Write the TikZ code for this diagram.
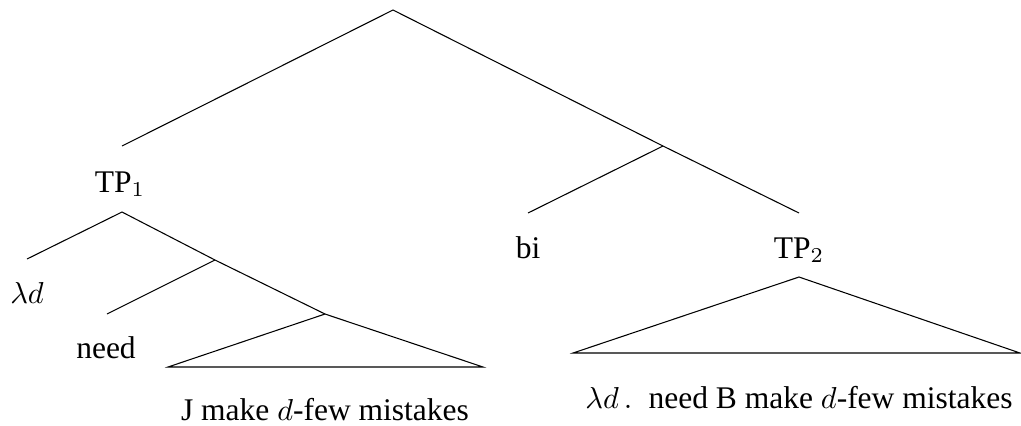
\documentclass[tikz,border=0pt]{standalone}
\usepackage{fontspec}
\setmainfont{Liberation Serif}
\usepackage{tikz}

\begin{document}
\begin{tikzpicture}[x=0.33pt,y=-0.33pt,
  lbl/.style={anchor=base,inner sep=0pt,font=\fontsize{10.4}{12.5}\selectfont},
  edge/.style={line width=0.35pt,line join=miter}]
  \useasboundingbox (0,0) rectangle (1021,425);
  % branch points
  \coordinate (root) at (393,10);
  \coordinate (tpa) at (122,146);
  \coordinate (brr) at (663,146);
  \coordinate (bitop) at (528,213);
  \coordinate (tpb) at (799,213);
  \coordinate (tp1top) at (122,212);
  \coordinate (lamtop) at (27,259);
  \coordinate (brl) at (215,260);
  \coordinate (needtop) at (107,314);
  \coordinate (tria) at (325,314);
  \coordinate (tril) at (168,367);
  \coordinate (trir) at (483,367);
  \coordinate (tp2top) at (799,277);
  \coordinate (trbl) at (573,353);
  \coordinate (trbr) at (1020,353);
  % labels
  \node[lbl] (tp1) at (120,192) {TP$_1$};
  \node[lbl] (bi) at (528,258) {bi};
  \node[lbl] (tp2) at (799,258) {TP$_2$};
  \node[lbl] (lam) at (27,303) {$\lambda d$};
  \node[lbl] (need) at (106,358) {need};
  \node[lbl] (jmake) at (325,420) {J make $d$-few mistakes};
  \node[lbl] (bmake) at (799,408) {$\lambda d\,.\;$ need B make $d$-few mistakes};
  % upper tree
  \draw[edge] (tpa) -- (root) -- (brr) -- (tpb);
  \draw[edge] (brr) -- (bitop);
  % TP1
  \draw[edge] (lamtop) -- (tp1top) -- (brl) -- (tria);
  \draw[edge] (brl) -- (needtop);
  \draw[edge] (tria) -- (tril) -- (trir) -- cycle;
  % TP2
  \draw[edge] (tp2top) -- (trbl) -- (trbr) -- cycle;
\end{tikzpicture}
\end{document}
